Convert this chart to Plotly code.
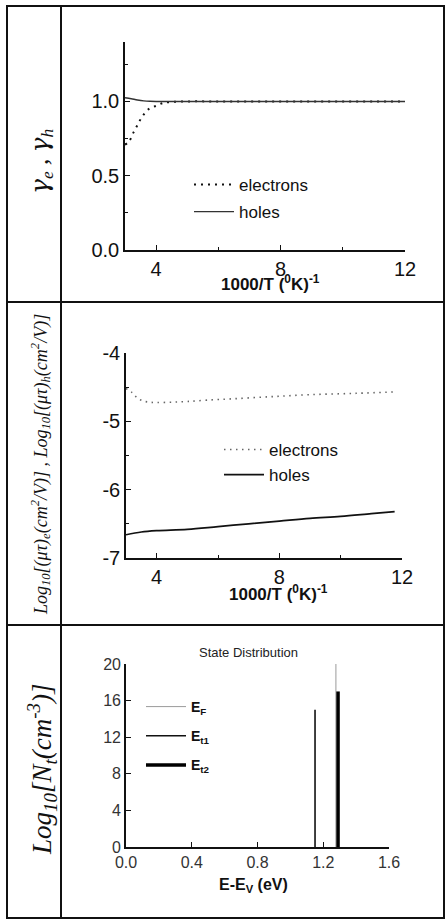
import plotly.graph_objects as go

W, H = 445, 920
def px(x): return x / W
def py(y): return 1 - y / H

# ---------------- data ----------------
# Panel 1: gamma vs 1000/T
invT_e1 = [3.0, 3.13, 3.27, 3.40, 3.56, 3.77, 4.0, 4.23, 4.47, 5.0, 6.0, 7.0, 8.0, 9.0, 10.0, 11.0, 12.0]
gamma_e = [0.71, 0.73, 0.79, 0.84, 0.90, 0.95, 0.97, 0.99, 0.996, 1.0, 1.0, 1.0, 1.0, 1.0, 1.0, 1.0, 1.0]
invT_h1 = [3.0, 3.2, 3.4, 3.6, 3.8, 4.0, 5.0, 6.0, 7.0, 8.0, 9.0, 10.0, 11.0, 12.0]
gamma_h = [1.025, 1.018, 1.010, 1.004, 1.001, 1.0, 1.0, 1.0, 1.0, 1.0, 1.0, 1.0, 1.0, 1.0]

# Panel 2: log10(mu tau) vs 1000/T
invT_e2 = [3.0, 3.2, 3.35, 3.54, 3.78, 4.0, 4.5, 5.0, 5.64, 6.5, 7.7, 9.0, 10.5, 11.76]
mutau_e = [-4.52, -4.58, -4.65, -4.70, -4.72, -4.725, -4.72, -4.71, -4.69, -4.67, -4.64, -4.61, -4.59, -4.57]
invT_h2 = [3.0, 3.5, 4.0, 5.0, 6.0, 7.0, 8.0, 9.0, 10.0, 11.0, 11.76]
mutau_h = [-6.66, -6.62, -6.60, -6.58, -6.54, -6.50, -6.46, -6.42, -6.39, -6.35, -6.32]
y2_tickvals = [-7, -6, -5, -4]
y2_ticktext = ["-7", "-6", "-5", "-4"]

# Panel 3: state distribution
level_names = ["E<sub>F</sub>", "E<sub>t1</sub>", "E<sub>t2</sub>"]
level_energy = [1.277, 1.15, 1.29]
level_logN = [20, 15, 17]
level_colors = ["#9a9a9a", "#111111", "#000000"]
level_widths = [1, 1.6, 3.5]

TICKFONT = dict(family="Liberation Sans, Arial", size=20, color="#111")
LEGFONT = dict(family="Liberation Sans, Arial", size=17, color="#111")

fig = go.Figure()

# Panel 1 traces
fig.add_trace(go.Scatter(x=invT_e1, y=gamma_e, mode="lines", name="electrons",
                         line=dict(color="#111", width=2, dash="2px,5px", shape="spline"),
                         xaxis="x", yaxis="y", legend="legend", legendgroup="a"))
fig.add_trace(go.Scatter(x=invT_h1, y=gamma_h, mode="lines", name="holes",
                         line=dict(color="#333", width=1.4, shape="spline"),
                         xaxis="x", yaxis="y", legend="legend", legendgroup="b"))

# Panel 2 traces
fig.add_trace(go.Scatter(x=invT_e2, y=mutau_e, mode="lines", name="electrons",
                         line=dict(color="#666", width=1.6, dash="1.5px,4.5px", shape="spline"),
                         xaxis="x2", yaxis="y2", legend="legend2", legendgroup="c"))
fig.add_trace(go.Scatter(x=invT_h2, y=mutau_h, mode="lines", name="holes",
                         line=dict(color="#111", width=1.7, shape="spline"),
                         xaxis="x2", yaxis="y2", legend="legend2", legendgroup="d"))

# Panel 3 traces
for i, (nm, e, n, c, w) in enumerate(zip(level_names, level_energy, level_logN, level_colors, level_widths)):
    fig.add_trace(go.Scatter(x=[e, e], y=[0, n], mode="lines", name="<b>" + nm + "</b>",
                             line=dict(color=c, width=w),
                             xaxis="x3", yaxis="y3", legend="legend3", legendgroup="g%d" % i))

def axis_common(**kw):
    d = dict(showline=True, linecolor="#111", linewidth=1.6, ticks="inside", ticklen=5,
             tickwidth=1.3, tickcolor="#111", showgrid=False, zeroline=False,
             tickfont=TICKFONT, mirror=False, automargin=False)
    d.update(kw)
    return d

fig.update_layout(
    width=W, height=H, margin=dict(l=0, r=0, t=0, b=0, pad=0, autoexpand=False),
    paper_bgcolor="white", plot_bgcolor="white",
    xaxis=axis_common(domain=[px(125), px(405)], range=[3, 12], tick0=0, dtick=4, anchor="y",
                      minor=dict(dtick=2, ticks="inside", ticklen=3, tickcolor="#111")),
    yaxis=axis_common(domain=[py(250), py(42)], range=[0, 1.4], tick0=0, dtick=0.5, tickformat=".1f",
                      anchor="x", minor=dict(dtick=0.25, ticks="inside", ticklen=3, tickcolor="#111")),
    xaxis2=axis_common(domain=[px(126), px(402)], range=[3, 12], tick0=0, dtick=4, anchor="y2",
                       minor=dict(dtick=2, ticks="inside", ticklen=3, tickcolor="#111")),
    yaxis2=axis_common(domain=[py(558), py(353)], range=[-7, -4], tickmode="array",
                       tickvals=y2_tickvals, ticktext=y2_ticktext, anchor="x2",
                       minor=dict(dtick=0.5, ticks="inside", ticklen=3, tickcolor="#111")),
    xaxis3=axis_common(domain=[px(126), px(389)], range=[0, 1.6], tick0=0, dtick=0.4, tickformat=".1f",
                       anchor="y3", tickfont=dict(family="Liberation Sans, Arial", size=16, color="#333")),
    yaxis3=axis_common(domain=[py(847), py(664)], range=[0, 20], dtick=4, anchor="x3",
                       tickfont=dict(family="Liberation Sans, Arial", size=16, color="#333")),
    legend=dict(x=px(189), y=py(167), xanchor="left", yanchor="top", font=LEGFONT,
                bgcolor="rgba(0,0,0,0)", tracegroupgap=2, itemwidth=40),
    legend2=dict(x=px(219), y=py(432), xanchor="left", yanchor="top", font=LEGFONT,
                 bgcolor="rgba(0,0,0,0)", tracegroupgap=0, itemwidth=40),
    legend3=dict(x=px(141), y=py(691), xanchor="left", yanchor="top",
                 font=dict(family="Liberation Sans, Arial", size=14, color="#111"),
                 bgcolor="rgba(0,0,0,0)", tracegroupgap=8, itemwidth=40),
)

# table borders
border = dict(color="#111", width=2)
shapes = [
    dict(type="rect", xref="paper", yref="paper", x0=px(7), x1=px(444), y0=py(918), y1=py(6), line=border),
    dict(type="line", xref="paper", yref="paper", x0=px(61), x1=px(61), y0=py(918), y1=py(6), line=border),
    dict(type="line", xref="paper", yref="paper", x0=px(7), x1=px(444), y0=py(302), y1=py(302), line=border),
    dict(type="line", xref="paper", yref="paper", x0=px(7), x1=px(444), y0=py(625), y1=py(625), line=border),
]
fig.update_layout(shapes=shapes)

SERIF = "Liberation Serif, Times New Roman"
XT = dict(family="Liberation Sans, Arial", size=17, color="#111")

def ann(text, x, y, font, angle=0):
    return dict(text=text, x=px(x), y=py(y), xref="paper", yref="paper", xanchor="center",
                yanchor="middle", textangle=angle, showarrow=False, font=font)

G = "<span style='font-family:DejaVu Serif'>γ</span>"
annotations = [
    ann("<i>" + G + "<sub>e</sub> , " + G + "<sub>h</sub></i>", 41, 162,
        dict(family=SERIF, size=25, color="#111"), -90),
    ann("<i>Log<sub>10</sub>[(μτ)<sub>e</sub>(cm<sup>2</sup>/V)] , Log<sub>10</sub>[(μτ)<sub>h</sub>(cm<sup>2</sup>/V)]</i>",
        40, 465, dict(family=SERIF, size=18, color="#111"), -90),
    ann("<i>Log<sub>10</sub>[N<sub>t</sub>(cm<sup>-3</sup>)]</i>", 42, 770, dict(family=SERIF, size=27, color="#111"), -90),
    ann("<b>1000/T (<sup>0</sup>K)<sup>-1</sup></b>", 270, 283, XT),
    ann("<b>1000/T (<sup>0</sup>K)<sup>-1</sup></b>", 278, 593, XT),
    ann("<b>E-E<sub>V</sub> (eV)</b>", 253, 885, dict(family="Liberation Sans, Arial", size=16, color="#111")),
    ann("State Distribution", 249, 652, dict(family="Liberation Sans, Arial", size=13, color="#222")),
]
fig.update_layout(annotations=annotations)

fig.write_html("out.html",
               post_script="document.body.style.margin='0';document.body.style.overflow='hidden';")
